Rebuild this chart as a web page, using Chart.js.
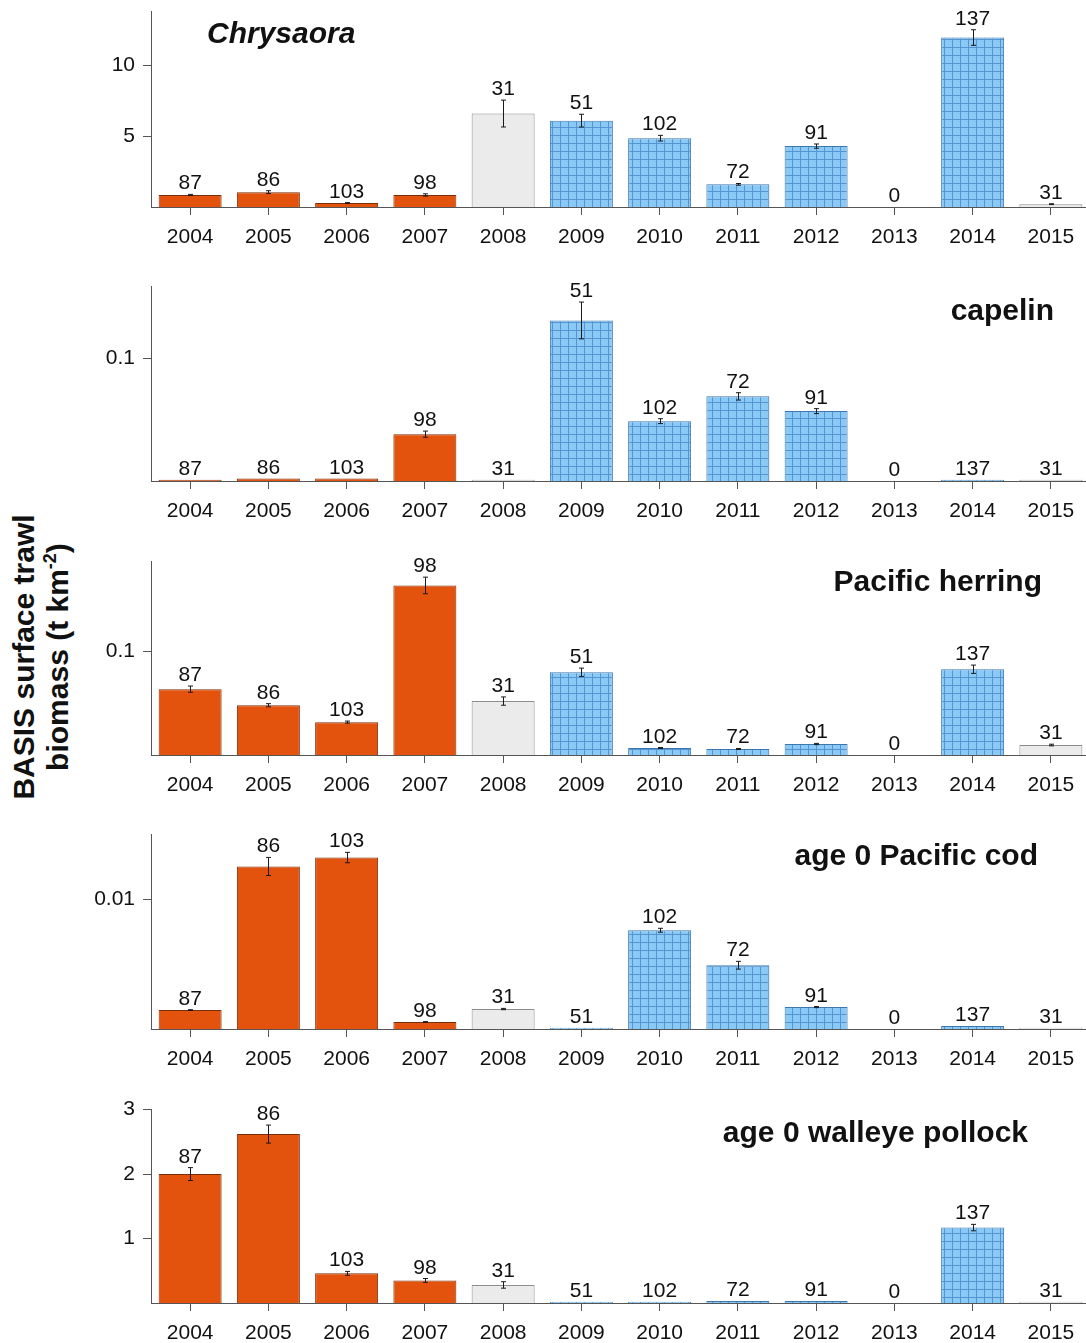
<!DOCTYPE html>
<html>
<head>
<meta charset="utf-8">
<script src="https://cdn.jsdelivr.net/npm/chart.js@4.4.0/dist/chart.umd.min.js"></script>
<style>
  body {
    margin: 0;
    width: 1086px;
    height: 1343px;
    overflow: hidden;
    position: relative;
    background: #fff;
    font-family: "Liberation Sans", Arial, sans-serif;
  }
  canvas.panel {
    position: absolute;
    left: 0;
  }
  #ytitle {
    position: absolute;
    left: 41px;
    top: 657px;
    transform: translate(-50%, -50%) rotate(-90deg);
    font-weight: bold;
    font-size: 30px;
    line-height: 34px;
    text-align: center;
    white-space: nowrap;
    color: #111;
  }
  #ytitle sup {
    font-size: 18px;
    line-height: 0;
    vertical-align: 12px;
  }
</style>
</head>
<body>
<div id="ytitle">BASIS surface trawl<br>biomass (t km<sup>-2</sup>)</div>
<script>
const years = ["2004", "2005", "2006", "2007", "2008", "2009", "2010", "2011", "2012", "2013", "2014", "2015"];
const counts = [87, 86, 103, 98, 31, 51, 102, 72, 91, 0, 137, 31];
// survey group per year: orange = warm years, blue = cold years, grey = partial
const yearGroup = ["orange", "orange", "orange", "orange", "grey", "blue", "blue", "blue", "blue", "none", "blue", "grey"];

const chrysaora = [0.85, 1.05, 0.28, 0.85, 6.6, 6.1, 4.86, 1.6, 4.3, 0, 11.97, 0.2];
const chrysaoraErr = [0.04, 0.1, 0.03, 0.08, 0.95, 0.45, 0.2, 0.06, 0.15, 0, 0.55, 0.03];
const chrysaoraTicks = [5, 10];
const chrysaoraTickLabels = ["5", "10"];

const capelin = [0.001, 0.002, 0.002, 0.0382, 0.001, 0.1309, 0.0488, 0.069, 0.057, 0, 0.001, 0.001];
const capelinErr = [0, 0, 0, 0.0025, 0, 0.015, 0.002, 0.003, 0.002, 0, 0, 0];
const capelinTicks = [0.1];
const capelinTickLabels = ["0.1"];

const herring = [0.0635, 0.048, 0.0317, 0.1635, 0.052, 0.0798, 0.0067, 0.0058, 0.0106, 0, 0.0827, 0.0096];
const herringErr = [0.003, 0.0015, 0.001, 0.008, 0.004, 0.004, 0.0005, 0.0005, 0.0006, 0, 0.004, 0.0008];
const herringTicks = [0.1];
const herringTickLabels = ["0.1"];

const cod = [0.00146, 0.01254, 0.01323, 0.00054, 0.00154, 0.0001, 0.00762, 0.00492, 0.00169, 0, 0.00023, 0.0001];
const codErr = [0.00003, 0.0007, 0.0004, 0.00003, 0.00005, 0, 0.00015, 0.0003, 0.00004, 0, 0, 0];
const codTicks = [0.01];
const codTickLabels = ["0.01"];

const pollock = [2.0, 2.62, 0.46, 0.35, 0.28, 0.02, 0.02, 0.03, 0.03, 0, 1.17, 0.02];
const pollockErr = [0.1, 0.14, 0.03, 0.03, 0.05, 0, 0, 0, 0, 0, 0.05, 0];
const pollockTicks = [1, 2, 3];
const pollockTickLabels = ["1", "2", "3"];

const FONT = "'Liberation Sans', Arial, Helvetica, sans-serif";
const PAD_TOP = 14;
const XAXIS_H = 54;

// blue bars get a fine grid fill
function gridPattern() {
  const c = document.createElement("canvas");
  c.width = 8;
  c.height = 8;
  const g = c.getContext("2d");
  g.fillStyle = "#8ac8f6";
  g.fillRect(0, 0, 8, 8);
  g.fillStyle = "#5494d0";
  g.fillRect(0, 0, 8, 1);
  g.fillRect(0, 0, 1, 8);
  return g.createPattern(c, "repeat");
}
const bluePattern = gridPattern();

const fills = { orange: "#e4530d", blue: bluePattern, grey: "#ebebeb", none: "rgba(0,0,0,0)" };
const edges = { orange: "#7a2e0a", blue: "#3d77ad", grey: "#8d8d8d", none: "rgba(0,0,0,0)" };

const panels = [
  { title: "Chrysaora", italic: true, align: "left", tx: 207, ty: 35, values: chrysaora, errors: chrysaoraErr,
    max: 13.8, ticks: chrysaoraTicks, tickLabels: chrysaoraTickLabels, top: 12, height: 196 },
  { title: "capelin", align: "right", tx: 1054, ty: 312, values: capelin, errors: capelinErr,
    max: 0.1585, ticks: capelinTicks, tickLabels: capelinTickLabels, top: 287, height: 195 },
  { title: "Pacific herring", align: "right", tx: 1042, ty: 583, values: herring, errors: herringErr,
    max: 0.1865, ticks: herringTicks, tickLabels: herringTickLabels, top: 562, height: 194 },
  { title: "age 0 Pacific cod", align: "right", tx: 1038, ty: 857, values: cod, errors: codErr,
    max: 0.015, ticks: codTicks, tickLabels: codTickLabels, top: 835, height: 195 },
  { title: "age 0 walleye pollock", align: "right", tx: 1028, ty: 1134, values: pollock, errors: pollockErr,
    max: 3, ticks: pollockTicks, tickLabels: pollockTickLabels, top: 1110, height: 194 },
];

function makeExtras(p) {
  return {
    id: "barExtras",
    afterDatasetsDraw(chart) {
      const ctx = chart.ctx;
      const y = chart.scales.y;
      const meta = chart.getDatasetMeta(0);
      ctx.save();
      ctx.strokeStyle = "#1a1a1a";
      ctx.lineWidth = 1;
      ctx.fillStyle = "#111";
      ctx.font = "21px " + FONT;
      ctx.textAlign = "center";
      ctx.textBaseline = "alphabetic";
      meta.data.forEach((bar, i) => {
        const v = p.values[i];
        const e = p.errors[i];
        const x = Math.round(bar.x) + 0.5;
        let top = y.getPixelForValue(v);
        if (e > 0) {
          const hi = y.getPixelForValue(v + e);
          const lo = y.getPixelForValue(v - e);
          ctx.beginPath();
          ctx.moveTo(x, hi);
          ctx.lineTo(x, lo);
          ctx.moveTo(x - 2.5, hi);
          ctx.lineTo(x + 2.5, hi);
          ctx.moveTo(x - 2.5, lo);
          ctx.lineTo(x + 2.5, lo);
          ctx.stroke();
          top = Math.min(top, hi);
        }
        ctx.fillText(String(counts[i]), bar.x, top - 5);
      });
      // panel title
      ctx.font = (p.italic ? "italic " : "") + "bold 30px " + FONT;
      ctx.textAlign = p.align;
      ctx.textBaseline = "middle";
      ctx.fillText(p.title, p.tx, p.ty - p.canvasTop);
      ctx.restore();
    },
  };
}

function buildPanel(p, canvasTop, canvasH) {
  const canvas = document.createElement("canvas");
  canvas.className = "panel";
  canvas.width = 1100;
  canvas.height = canvasH;
  canvas.style.top = canvasTop + "px";
  document.body.appendChild(canvas);
  p.canvasTop = canvasTop;

  return new Chart(canvas.getContext("2d"), {
    type: "bar",
    data: {
      labels: years,
      datasets: [
        {
          data: p.values,
          backgroundColor: yearGroup.map((g) => fills[g]),
          borderColor: yearGroup.map((g) => edges[g]),
          borderWidth: 1,
          borderSkipped: "bottom",
          categoryPercentage: 1,
          barPercentage: 0.805,
        },
      ],
    },
    options: {
      responsive: false,
      animation: false,
      layout: { padding: { top: PAD_TOP, right: 10, left: 0, bottom: 0 } },
      plugins: { legend: { display: false }, tooltip: { enabled: false } },
      scales: {
        x: {
          border: { color: "#555", width: 1 },
          grid: { display: true, drawOnChartArea: false, offset: false, tickLength: 8, color: "#555" },
          ticks: { color: "#111", font: { size: 21, family: FONT }, padding: 10, maxRotation: 0 },
          afterFit: (s) => { s.height = XAXIS_H; },
        },
        y: {
          min: 0,
          max: p.max,
          border: { color: "#555", width: 1 },
          grid: { display: true, drawOnChartArea: false, tickLength: 8, color: "#555" },
          ticks: {
            color: "#111",
            font: { size: 21, family: FONT },
            padding: 8,
            callback: (v, i) => p.tickLabels[i],
          },
          afterBuildTicks: (s) => { s.ticks = p.ticks.map((v) => ({ value: v })); },
          afterFit: (s) => { s.width = 151; },
        },
      },
    },
    plugins: [makeExtras(p)],
  });
}

panels.forEach((p) => {
  // first pass measures where the plot area lands, second pass places it exactly
  const probe = buildPanel(p, 0, PAD_TOP + p.height + XAXIS_H);
  const area = probe.chartArea;
  const dTop = area.top;
  const dH = p.height - (area.bottom - area.top);
  const probeCanvas = probe.canvas;
  probe.destroy();
  probeCanvas.remove();
  buildPanel(p, p.top - dTop, PAD_TOP + p.height + XAXIS_H + dH);
});
</script>
</body>
</html>
